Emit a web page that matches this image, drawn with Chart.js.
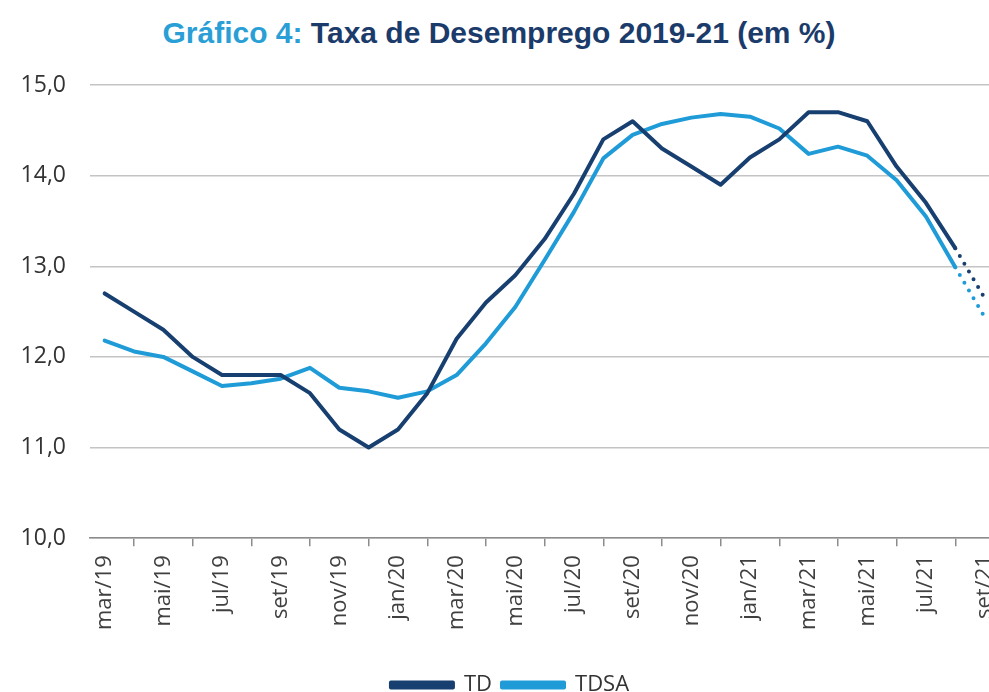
<!DOCTYPE html>
<html>
<head>
<meta charset="utf-8">
<script src="https://cdn.jsdelivr.net/npm/chart.js@4.4.1/dist/chart.umd.min.js"></script>
<style>
  html, body { margin: 0; padding: 0; background: #fff; overflow: hidden; width: 989px; height: 692px; }
  #title {
    position: absolute; left: 0; top: 15px; width: 998px; text-align: center;
    font-family: "Liberation Sans", Arial, sans-serif; font-weight: bold; font-size: 30px; line-height: 36px;
    color: #1b3b6b;
  }
  #title span { color: #2a9fd6; }
  #wrap { position: absolute; left: 0; top: 0; width: 1020px; height: 706px; }
</style>
</head>
<body>
<div id="title"><span>Gráfico 4:</span> Taxa de Desemprego 2019-21 (em %)</div>
<div id="wrap"><canvas id="mycanvas"></canvas></div>
<script>
var months = ['mar/19','abr/19','mai/19','jun/19','jul/19','ago/19','set/19','out/19','nov/19','dez/19',
              'jan/20','fev/20','mar/20','abr/20','mai/20','jun/20','jul/20','ago/20','set/20','out/20','nov/20','dez/20',
              'jan/21','fev/21','mar/21','abr/21','mai/21','jun/21','jul/21','ago/21','set/21'];
var td = [12.7, 12.5, 12.3, 12.0, 11.8, 11.8, 11.8, 11.6, 11.2, 11.0,
          11.2, 11.6, 12.2, 12.6, 12.9, 13.3, 13.8, 14.4, 14.6, 14.3, 14.1, 13.9,
          14.2, 14.4, 14.7, 14.7, 14.6, 14.1, 13.7, 13.2, 12.65];
var tdsa = [12.18, 12.06, 12.0, 11.84, 11.68, 11.71, 11.76, 11.88, 11.66, 11.62,
            11.55, 11.62, 11.8, 12.15, 12.55, 13.07, 13.6, 14.19, 14.45, 14.57, 14.64, 14.68,
            14.65, 14.52, 14.24, 14.32, 14.22, 13.95, 13.55, 12.99, 12.44];
var lastReal = 29; // ago/21, after that the line is dotted

var dotted = function(ctx) {
  return ctx.p1DataIndex > lastReal ? [0, 9] : undefined;
};

var ctx = document.getElementById('mycanvas');
var LineGraph = new Chart(ctx, {
  type: 'line',
  data: {
    labels: months,
    datasets: [
      {
        label: 'TD',
        data: td,
        borderColor: '#173f70',
        backgroundColor: '#173f70',
        borderWidth: 4,
        pointRadius: 0,
        tension: 0,
        borderJoinStyle: 'round',
        borderCapStyle: 'round',
        segment: { borderDash: dotted }
      },
      {
        label: 'TDSA',
        data: tdsa,
        borderColor: '#1f9bd7',
        backgroundColor: '#1f9bd7',
        borderWidth: 4,
        pointRadius: 0,
        tension: 0,
        borderJoinStyle: 'round',
        borderCapStyle: 'round',
        segment: { borderDash: dotted }
      }
    ]
  },
  options: {
    responsive: true,
    maintainAspectRatio: false,
    animation: false,
    layout: { padding: { top: 85, bottom: 0, right: 0, left: 0 } },
    plugins: {
      title: { display: false },
      tooltip: { enabled: false },
      legend: {
        position: 'bottom',
        labels: {
          boxWidth: 62,
          boxHeight: 5,
          padding: 10,
          color: '#333',
          font: { family: 'Open Sans', size: 22 }
        }
      }
    },
    scales: {
      x: {
        offset: true,
        afterFit: function(scale) { scale.height += 25; },
        grid: { offset: true, drawOnChartArea: false, drawTicks: true, tickLength: 8, color: '#8c8c8c', lineWidth: 1.5 },
        border: { display: true, color: '#8c8c8c', width: 1.5 },
        ticks: {
          autoSkip: false,
          minRotation: 90,
          maxRotation: 90,
          padding: 9,
          color: '#404040',
          font: { family: 'Open Sans', size: 22 },
          callback: function(value, index) {
            return index % 2 === 0 ? this.getLabelForValue(value) : null;
          }
        }
      },
      y: {
        min: 10,
        max: 15,
        afterFit: function(scale) { scale.width = 90; },
        grid: { drawTicks: false, color: '#c4c4c4', lineWidth: 1.5 },
        border: { display: false },
        ticks: {
          stepSize: 1,
          padding: 24,
          color: '#333',
          font: { family: 'Open Sans', size: 23 },
          callback: function(value) { return value.toFixed(1).replace('.', ','); }
        }
      }
    }
  }
});
</script>
</body>
</html>
